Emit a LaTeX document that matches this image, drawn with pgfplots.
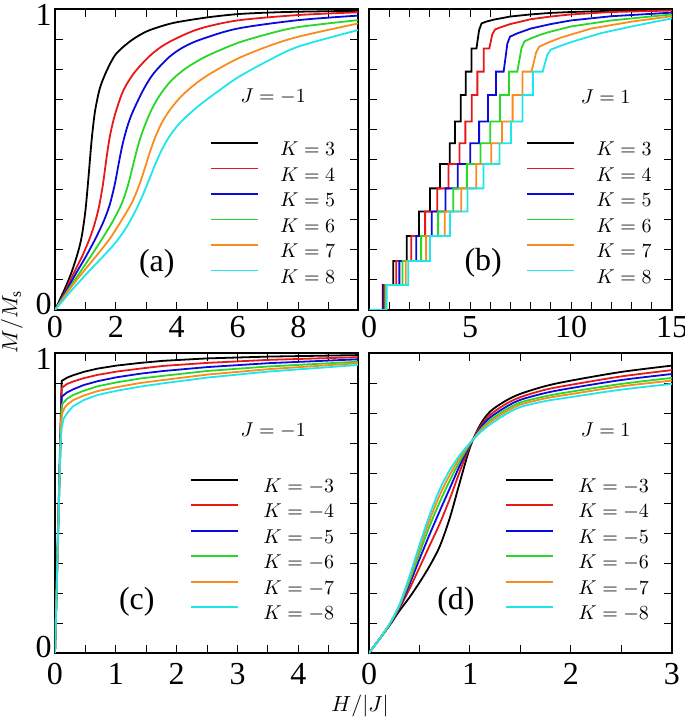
\documentclass[border=0pt]{standalone}
\usepackage{fontspec}
\setmainfont{Liberation Serif}
\usepackage{pgfplots}
\pgfplotsset{compat=1.18}
\definecolor{cK3}{RGB}{0,0,0}
\definecolor{cK4}{RGB}{232,24,24}
\definecolor{cK5}{RGB}{10,10,220}
\definecolor{cK6}{RGB}{40,215,40}
\definecolor{cK7}{RGB}{250,140,30}
\definecolor{cK8}{RGB}{30,230,235}
\pgfplotsset{
 panel/.style={
  scale only axis, width=151.5pt, height=150.5pt, anchor=south west,
  ymin=0, ymax=1, ytick={0,1}, minor ytick={0.1,0.2,0.3,0.4,0.5,0.6,0.7,0.8,0.9},
  yticklabels={\raisebox{3pt}[\height][0pt]{0},\raisebox{-3pt}[\height][0pt]{1}},
  xtick pos=both, ytick pos=both, tick align=inside,
  major tick length=4pt, minor tick length=4pt,
  tick style={black, line width=0.5pt},
  axis line style={line width=0.65pt},
  tick label style={font=\fontsize{16}{18}\selectfont},
  /pgf/number format/assume math mode=true,
  xticklabel style={inner ysep=3pt},
  yticklabel style={inner xsep=1.5pt},
  legend style={draw=none, fill=none, inner sep=0pt, outer sep=0pt, anchor=north west,
    font=\fontsize{10}{10.5}\selectfont, row sep=-0.5pt,
    cells={anchor=west, inner xsep=0pt, inner ysep=0pt, text height=7pt, text depth=0pt, minimum height=12pt}},
  legend image code/.code={\draw[##1] (0pt,3.5pt) -- (23.5pt,3.5pt); \path[draw=none,fill=none] (0pt,0pt) rectangle (32.5pt,7pt);},
  every axis plot/.append style={line width=0.9pt},
 },
 panelneg/.style={
  legend image code/.code={\draw[##1] (0pt,3.5pt) -- (23.5pt,3.5pt); \path[draw=none,fill=none] (0pt,0pt) rectangle (34.2pt,7pt);},
 }
}
\begin{document}
\begin{tikzpicture}
\useasboundingbox (0,0) rectangle (342.5pt,359.5pt);
% ---------------- (a)
\begin{axis}[panel, at={(27.5pt,204.5pt)}, xmin=0, xmax=9.96,
  xtick={0,2,4,6,8}, minor xtick={1,3,5,7,9},
  legend style={at={(axis description cs:0.512,0.578)}}]
\addplot[cK3, smooth, tension=0.5] coordinates {(0,0) (0.33,0.072) (0.55,0.127) (0.75,0.19) (0.88,0.245) (1.0,0.33) (1.1,0.44) (1.2,0.56) (1.3,0.65) (1.4,0.705) (1.5,0.745) (1.7,0.795) (2.0,0.85) (2.5,0.895) (3,0.925) (3.5,0.943) (4,0.956) (5,0.972) (6,0.983) (7,0.988) (8,0.991) (9.96,0.994)};
\addlegendentry{$K=3$}
\addplot[cK4, smooth, tension=0.5] coordinates {(0,0) (0.3,0.055) (0.63,0.125) (0.9,0.18) (1.13,0.235) (1.3,0.285) (1.45,0.345) (1.58,0.42) (1.7,0.51) (1.8,0.575) (1.92,0.63) (2.05,0.675) (2.25,0.73) (2.58,0.785) (3.07,0.84) (3.5,0.875) (4.0,0.903) (4.77,0.935) (6,0.962) (8,0.98) (9.96,0.989)};
\addlegendentry{$K=4$}
\addplot[cK5, smooth, tension=0.5] coordinates {(0,0) (0.35,0.06) (0.71,0.125) (1.0,0.175) (1.32,0.235) (1.6,0.295) (1.8,0.35) (1.97,0.42) (2.1,0.49) (2.22,0.55) (2.35,0.6) (2.5,0.645) (2.7,0.69) (2.95,0.74) (3.25,0.787) (3.75,0.84) (4.2,0.872) (4.77,0.898) (6,0.935) (8,0.963) (9.96,0.978)};
\addlegendentry{$K=5$}
\addplot[cK6, smooth, tension=0.5] coordinates {(0,0) (0.4,0.062) (0.82,0.125) (1.2,0.182) (1.54,0.235) (1.9,0.295) (2.2,0.355) (2.4,0.415) (2.55,0.475) (2.7,0.535) (2.85,0.585) (3.02,0.63) (3.22,0.675) (3.5,0.722) (3.85,0.765) (4.3,0.803) (4.77,0.832) (5.1,0.849) (6,0.887) (7,0.917) (8,0.94) (9.96,0.963)};
\addlegendentry{$K=6$}
\addplot[cK7, smooth, tension=0.5] coordinates {(0,0) (0.45,0.065) (0.93,0.127) (1.4,0.185) (1.81,0.238) (2.2,0.3) (2.52,0.355) (2.75,0.41) (2.95,0.47) (3.12,0.525) (3.3,0.575) (3.5,0.62) (3.78,0.665) (4.15,0.71) (4.6,0.75) (5.1,0.785) (6,0.835) (7,0.876) (8,0.908) (9.96,0.952)};
\addlegendentry{$K=7$}
\addplot[cK8, smooth, tension=0.5] coordinates {(0,0) (0.5,0.06) (1.1,0.127) (1.6,0.18) (2.0,0.225) (2.35,0.275) (2.65,0.33) (2.9,0.385) (3.1,0.435) (3.3,0.485) (3.5,0.53) (3.75,0.575) (4.05,0.615) (4.4,0.65) (4.77,0.682) (5.2,0.715) (6,0.772) (7,0.828) (8,0.875) (9.96,0.93)};
\addlegendentry{$K=8$}
\node at (axis description cs:0.72,0.709) {\fontsize{10}{12}\selectfont $J=-1$};
\node at (axis description cs:0.336,0.153) {\fontsize{16}{18}\selectfont (a)};
\end{axis}
% ---------------- (b)
\begin{axis}[panel, at={(184.5pt,204.5pt)}, xmin=0, xmax=15,
  xtick={0,5,10,15}, minor xtick={1,2,3,4,6,7,8,9,11,12,13,14}, yticklabels={},
  legend style={at={(axis description cs:0.52,0.578)}}]
\addplot[cK3] coordinates {(0,0) (0.68,0) (0.68,0.083) (1.2,0.083) (1.2,0.163) (1.87,0.163) (1.87,0.246) (2.48,0.246) (2.48,0.327) (3.02,0.327) (3.02,0.404) (3.51,0.404) (3.51,0.485) (4.0,0.485) (4.0,0.554) (4.26,0.554) (4.26,0.626) (4.54,0.626) (4.54,0.714) (4.79,0.714) (4.79,0.792) (5.07,0.792) (5.07,0.869) (5.32,0.869) (5.45,0.93) (5.57,0.952) (5.8,0.958) (6.2,0.965) (7,0.975) (8,0.982) (9,0.987) (10,0.99) (12,0.994) (15,0.997)};
\addlegendentry{$K=3$}
\addplot[cK4] coordinates {(0,0) (0.72,0) (0.72,0.083) (1.344,0.083) (1.344,0.163) (2.094,0.163) (2.094,0.246) (2.778,0.246) (2.778,0.327) (3.382,0.327) (3.382,0.404) (3.931,0.404) (3.931,0.485) (4.48,0.485) (4.48,0.554) (4.771,0.554) (4.771,0.626) (5.085,0.626) (5.085,0.714) (5.365,0.714) (5.365,0.792) (5.678,0.792) (5.678,0.869) (5.958,0.869) (6.1,0.915) (6.24,0.932) (6.5,0.939) (7,0.95) (8,0.966) (9,0.975) (10,0.982) (12,0.99) (15,0.995)};
\addlegendentry{$K=4$}
\addplot[cK5] coordinates {(0,0) (0.76,0) (0.76,0.083) (1.504,0.083) (1.504,0.163) (2.343,0.163) (2.343,0.246) (3.107,0.246) (3.107,0.327) (3.784,0.327) (3.784,0.404) (4.398,0.404) (4.398,0.485) (5.012,0.485) (5.012,0.554) (5.451,0.554) (5.451,0.626) (5.889,0.626) (5.889,0.714) (6.290,0.714) (6.290,0.792) (6.666,0.792) (6.85,0.885) (6.98,0.908) (7.3,0.918) (8,0.935) (9,0.95) (10,0.962) (12,0.976) (15,0.988)};
\addlegendentry{$K=5$}
\addplot[cK6] coordinates {(0,0) (0.8,0) (0.8,0.083) (1.656,0.083) (1.656,0.163) (2.581,0.163) (2.581,0.246) (3.422,0.246) (3.422,0.327) (4.168,0.327) (4.168,0.404) (4.844,0.404) (4.844,0.485) (5.52,0.485) (5.52,0.554) (6.003,0.554) (6.003,0.626) (6.486,0.626) (6.486,0.714) (6.928,0.714) (6.928,0.792) (7.342,0.792) (7.55,0.87) (7.69,0.892) (8,0.902) (8.5,0.915) (9,0.925) (10,0.942) (12,0.962) (15,0.982)};
\addlegendentry{$K=6$}
\addplot[cK7] coordinates {(0,0) (0.84,0) (0.84,0.083) (1.816,0.083) (1.816,0.163) (2.829,0.163) (2.829,0.246) (3.752,0.246) (3.752,0.327) (4.569,0.327) (4.569,0.404) (5.311,0.404) (5.311,0.485) (6.052,0.485) (6.052,0.554) (6.582,0.554) (6.582,0.626) (7.111,0.626) (7.111,0.714) (7.595,0.714) (7.595,0.792) (8.049,0.792) (8.27,0.855) (8.43,0.875) (9,0.892) (9.5,0.905) (10,0.915) (11,0.935) (13,0.958) (15,0.976)};
\addlegendentry{$K=7$}
\addplot[cK8] coordinates {(0,0) (0.88,0) (0.88,0.083) (1.939,0.083) (1.939,0.163) (3.022,0.163) (3.022,0.246) (4.008,0.246) (4.008,0.327) (4.880,0.327) (4.880,0.404) (5.672,0.404) (5.672,0.485) (6.464,0.485) (6.464,0.554) (7.030,0.554) (7.030,0.626) (7.595,0.626) (7.595,0.714) (8.112,0.714) (8.112,0.792) (8.597,0.792) (8.83,0.848) (9.0,0.865) (9.5,0.878) (10,0.89) (11,0.91) (11.5,0.92) (13,0.942) (15,0.969)};
\addlegendentry{$K=8$}
\node at (axis description cs:0.781,0.709) {\fontsize{10}{12}\selectfont $J=1$};
\node at (axis description cs:0.377,0.158) {\fontsize{16}{18}\selectfont (b)};
\end{axis}
% ---------------- (c)
\begin{axis}[panel, panelneg, at={(27.5pt,33pt)}, height=150pt, xmin=0, xmax=4.98,
  xtick={0,1,2,3,4}, minor xtick={0.5,1.5,2.5,3.5,4.5}, xticklabel style={inner ysep=5pt},
  legend style={at={(axis description cs:0.446,0.601)}}]
\addplot[cK3] coordinates {(0,0) (0.11,0.907) (0.2,0.918) (0.3,0.926) (0.47,0.937) (0.7,0.948) (1.01,0.958) (1.4,0.967) (1.78,0.974) (2.5,0.982) (3.5,0.988) (4.98,0.993)};
\addlegendentry{$K=-3$}
\addplot[cK4] coordinates {(0,0) (0.11,0.884) (0.2,0.897) (0.3,0.905) (0.47,0.916) (0.7,0.927) (1.01,0.938) (1.4,0.948) (1.78,0.957) (2.5,0.967) (3.5,0.977) (4.98,0.986)};
\addlegendentry{$K=-4$}
\addplot[cK5] coordinates {(0,0) (0.11,0.854) (0.2,0.869) (0.3,0.879) (0.47,0.893) (0.7,0.906) (1.01,0.919) (1.4,0.931) (1.78,0.94) (2.5,0.953) (3.5,0.966) (4.98,0.979)};
\addlegendentry{$K=-5$}
\addplot[cK6] coordinates {(0,0) (0.105,0.81) (0.12,0.83) (0.2,0.848) (0.3,0.86) (0.47,0.874) (0.7,0.889) (1.01,0.902) (1.4,0.915) (1.78,0.924) (2.5,0.94) (3.5,0.955) (4.98,0.971)};
\addlegendentry{$K=-6$}
\addplot[cK7] coordinates {(0,0) (0.1,0.77) (0.12,0.80) (0.16,0.818) (0.2,0.828) (0.3,0.843) (0.47,0.858) (0.7,0.873) (1.01,0.886) (1.4,0.9) (1.78,0.91) (2.5,0.928) (3.5,0.946) (4.98,0.966)};
\addlegendentry{$K=-7$}
\addplot[cK8] coordinates {(0,0) (0.09,0.7) (0.11,0.75) (0.14,0.78) (0.2,0.80) (0.3,0.823) (0.47,0.843) (0.7,0.86) (1.01,0.874) (1.4,0.888) (1.78,0.899) (2.5,0.918) (3.5,0.938) (4.98,0.96)};
\addlegendentry{$K=-8$}
\node at (axis description cs:0.72,0.743) {\fontsize{10}{12}\selectfont $J=-1$};
\node at (axis description cs:0.27,0.171) {\fontsize{16}{18}\selectfont (c)};
\end{axis}
% ---------------- (d)
\begin{axis}[panel, panelneg, at={(184.5pt,33pt)}, height=150pt, xmin=0, xmax=3,
  xtick={0,1,2,3}, minor xtick={0.5,1.5,2.5}, yticklabels={}, xticklabel style={inner ysep=5pt},
  legend style={at={(axis description cs:0.449,0.601)}}]
\addplot[cK3, smooth, tension=0.5] coordinates {(0,0) (0.1,0.045) (0.2,0.09) (0.3,0.14) (0.4,0.185) (0.5,0.235) (0.6,0.29) (0.7,0.355) (0.8,0.45) (0.9,0.57) (1.0,0.685) (1.1,0.76) (1.2,0.805) (1.35,0.84) (1.5,0.864) (1.75,0.89) (2.0,0.908) (2.5,0.937) (3.0,0.958)};
\addlegendentry{$K=-3$}
\addplot[cK4, smooth, tension=0.5] coordinates {(0,0) (0.1,0.045) (0.2,0.092) (0.3,0.148) (0.4,0.213) (0.5,0.285) (0.6,0.358) (0.7,0.431) (0.8,0.514) (0.9,0.606) (1.0,0.691) (1.1,0.754) (1.2,0.794) (1.35,0.829) (1.5,0.853) (1.75,0.878) (2.0,0.894) (2.5,0.922) (3.0,0.943)};
\addlegendentry{$K=-4$}
\addplot[cK5, smooth, tension=0.5] coordinates {(0,0) (0.1,0.045) (0.2,0.093) (0.3,0.152) (0.4,0.228) (0.5,0.313) (0.6,0.395) (0.7,0.473) (0.8,0.549) (0.9,0.626) (1.0,0.694) (1.1,0.749) (1.2,0.785) (1.35,0.819) (1.5,0.844) (1.75,0.867) (2.0,0.883) (2.5,0.910) (3.0,0.930)};
\addlegendentry{$K=-5$}
\addplot[cK6, smooth, tension=0.5] coordinates {(0,0) (0.1,0.045) (0.2,0.094) (0.3,0.156) (0.4,0.240) (0.5,0.333) (0.6,0.423) (0.7,0.503) (0.8,0.575) (0.9,0.640) (1.0,0.697) (1.1,0.743) (1.2,0.776) (1.35,0.810) (1.5,0.835) (1.75,0.856) (2.0,0.871) (2.5,0.897) (3.0,0.917)};
\addlegendentry{$K=-6$}
\addplot[cK7, smooth, tension=0.5] coordinates {(0,0) (0.1,0.045) (0.2,0.0945) (0.3,0.158) (0.4,0.248) (0.5,0.348) (0.6,0.443) (0.7,0.526) (0.8,0.594) (0.9,0.651) (1.0,0.699) (1.1,0.740) (1.2,0.770) (1.35,0.803) (1.5,0.828) (1.75,0.849) (2.0,0.863) (2.5,0.889) (3.0,0.908)};
\addlegendentry{$K=-7$}
\addplot[cK8, smooth, tension=0.5] coordinates {(0,0) (0.1,0.045) (0.2,0.095) (0.3,0.16) (0.4,0.255) (0.5,0.36) (0.6,0.46) (0.7,0.545) (0.8,0.61) (0.9,0.66) (1.0,0.70) (1.1,0.735) (1.2,0.762) (1.35,0.795) (1.5,0.82) (1.75,0.84) (2.0,0.853) (2.5,0.878) (3.0,0.897)};
\addlegendentry{$K=-8$}
\node at (axis description cs:0.781,0.743) {\fontsize{10}{12}\selectfont $J=1$};
\node at (axis description cs:0.287,0.171) {\fontsize{16}{18}\selectfont (d)};
\end{axis}
\node[rotate=90] at (6pt,198.5pt) {\fontsize{11}{13}\selectfont $M/M_{\mathrm{s}}$};
\node at (180pt,6.5pt) {\fontsize{10.5}{12}\selectfont $H/|J|$};
\end{tikzpicture}
\end{document}
